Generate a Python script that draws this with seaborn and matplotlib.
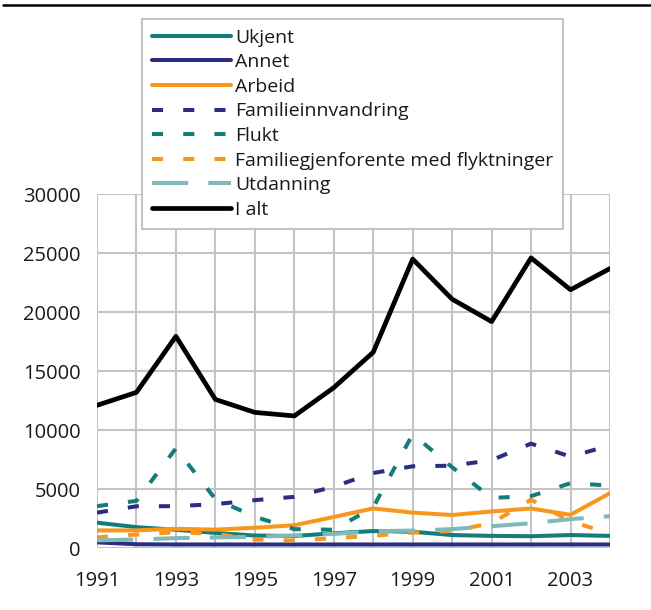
import pandas as pd
import matplotlib.pyplot as plt
import seaborn as sns
from matplotlib.lines import Line2D

# Data
years = list(range(1991, 2005))
ukjent = [2150, 1770, 1550, 1280, 1060, 1020, 1250, 1440, 1380, 1100, 1030, 1000, 1100, 1030]
annet = [480, 320, 300, 300, 300, 300, 300, 300, 300, 300, 300, 300, 300, 300]
arbeid = [1490, 1500, 1630, 1560, 1720, 1930, 2630, 3360, 3000, 2800, 3100, 3350, 2820, 4650]
familieinnvandring = [3000, 3540, 3550, 3720, 4060, 4340, 5200, 6360, 6930, 6980, 7450, 8850, 7750, 8700]
flukt = [3550, 4000, 8450, 4150, 2650, 1600, 1550, 3450, 9650, 6850, 4250, 4400, 5500, 5300]
familiegjenforente = [900, 1140, 1340, 1200, 720, 640, 830, 1050, 1300, 1450, 2100, 4100, 2250, 1250]
utdanning = [650, 720, 840, 900, 950, 1060, 1200, 1420, 1480, 1600, 1850, 2100, 2450, 2700]
i_alt = [12100, 13200, 17950, 12600, 11500, 11200, 13600, 16600, 24500, 21100, 19200, 24600, 21900, 23700]

labels = ["Ukjent", "Annet", "Arbeid", "Familieinnvandring", "Flukt",
          "Familiegjenforente med flyktninger", "Utdanning", "I alt"]
series = [ukjent, annet, arbeid, familieinnvandring, flukt,
          familiegjenforente, utdanning, i_alt]

teal = "#127d79"
navy = "#2b2e80"
orange = "#f7971e"
light = "#7fb9b8"
grid = "#c4c4c4"

dot = (0, (2.75, 5))
longdash = (0, (9, 5))
styles = [
    (teal, "-", 2.9),
    (navy, "-", 2.9),
    (orange, "-", 2.9),
    (navy, dot, 2.9),
    (teal, dot, 2.9),
    (orange, dot, 2.9),
    (light, longdash, 2.9),
    ("black", "-", 3.4),
]

sns.set_style("white")
plt.rcParams["font.family"] = ["Open Sans", "DejaVu Sans"]

fig = plt.figure(figsize=(6.51, 6.10), dpi=100)
ax = fig.add_axes([0.149, 0.1016, 0.788, 0.580])

for lab, vals, (col, ls, lw) in zip(labels, series, styles):
    df = pd.DataFrame({"year": years, "value": vals})
    sns.lineplot(data=df, x="year", y="value", ax=ax, color=col,
                 linestyle=ls, linewidth=lw, label=lab,
                 solid_capstyle="round", dash_capstyle="butt")

ax.set_xlim(1991, 2004)
ax.set_ylim(0, 30000)
ax.set_xticks(years)
ax.set_xticklabels([str(y) if y % 2 == 1 else "" for y in years])
ax.set_yticks(range(0, 30001, 5000))
ax.set_xlabel("")
ax.set_ylabel("")

ax.grid(True, color=grid, linewidth=1.5)
ax.set_axisbelow(True)
for s in ax.spines.values():
    s.set_visible(False)
ax.tick_params(axis="both", colors=grid, length=5, width=1.5,
               labelsize=14.5, labelcolor="#1a1a1a")
ax.tick_params(axis="x", pad=11.5)
ax.tick_params(axis="y", pad=7)

handles, labs = ax.get_legend_handles_labels()
leg = ax.legend(handles, labs, loc="upper left",
                bbox_to_anchor=(0.218, 0.969), bbox_transform=fig.transFigure,
                borderaxespad=0, fontsize=14, handlelength=4.1,
                handletextpad=0.2, labelspacing=0.34, borderpad=0.5,
                fancybox=False, framealpha=1, edgecolor=grid)
leg.get_frame().set_linewidth(1.5)
for t in leg.get_texts():
    t.set_color("#1a1a1a")

# thick rule across the top of the figure
fig.add_artist(Line2D([0.004, 1.0], [0.9918, 0.9918], color="black",
                      linewidth=1.8, transform=fig.transFigure))

plt.savefig("out.png", dpi=100)
